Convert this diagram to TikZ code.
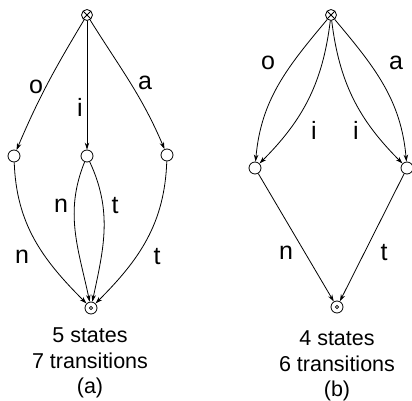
\documentclass[tikz,border=0pt]{standalone}
\usepackage{fontspec}
\setmainfont{Liberation Sans}
\usetikzlibrary{arrows.meta}

\tikzset{
  etat/.style={circle,draw,minimum size=12pt,inner sep=0pt},
  debut/.style={etat,minimum size=11pt,
    path picture={\draw (path picture bounding box.north west)--(path picture bounding box.south east)
                        (path picture bounding box.north east)--(path picture bounding box.south west);}},
  fin/.style={etat,
    path picture={\draw (path picture bounding box.center) circle (1.6pt);}},
  lbl/.style={inner sep=0pt,font=\fontsize{25}{25}\selectfont},
  legende/.style={align=center,inner sep=0pt,font=\fontsize{21.5}{25.5}\selectfont},
  trans/.style={->}
}

\begin{document}
\begin{tikzpicture}[x=1pt,y=1pt,line width=0.8pt,>={Stealth[length=7pt,width=4.5pt]}]
\useasboundingbox (0,0) rectangle (412,401);

% -----------------------
% Automate (a)
% -----------------------
\node[debut] (sa) at (87,386) {};
\node[etat] (qa1) at (14,245) {};
\node[etat] (qa2) at (87,245) {};
\node[etat] (qa3) at (167,246) {};
\node[fin] (fa) at (91,93) {};

\draw[trans] (sa) to[out=239,in=67] (qa1);
\draw[trans] (sa) -- (qa2);
\draw[trans] (sa) to[out=-58,in=113] (qa3);
\draw[trans] (qa1) to[out=-88,in=135] (fa);
\draw[trans] (qa2) to[out=-112,in=102] (fa);
\draw[trans] (qa2) to[out=-65,in=78] (fa);
\draw[trans] (qa3) to[out=-92,in=45] (fa);

\node[lbl] (la-o) at (36,314) {o};
\node[lbl] (la-i) at (80,294) {i};
\node[lbl] (la-a) at (145,318) {a};
\node[lbl] (la-n1) at (22,144) {n};
\node[lbl] (la-n2) at (61,195) {n};
\node[lbl] (la-t2) at (115,195) {t};
\node[lbl] (la-t1) at (157,144) {t};

\node[legende] (cap-a) at (90,38) {5 states\\7 transitions\\(a)};

% -----------------------
% Automate (b)
% -----------------------
\node[debut] (sb) at (331,386) {};
\node[etat] (qb1) at (255,233) {};
\node[etat] (qb2) at (407,233) {};
\node[fin] (fb) at (337,94) {};

\draw[trans] (sb) to[out=-130,in=85] (qb1);
\draw[trans] (sb) to[out=-97,in=45] (qb1);
\draw[trans] (sb) to[out=-83,in=135] (qb2);
\draw[trans] (sb) to[out=-50,in=95] (qb2);
\draw[trans] (qb1) -- (fb);
\draw[trans] (qb2) -- (fb);

\node[lbl] (lb-o) at (268,338) {o};
\node[lbl] (lb-i1) at (314,271) {i};
\node[lbl] (lb-i2) at (356,271) {i};
\node[lbl] (lb-a) at (396,338) {a};
\node[lbl] (lb-n) at (286,148) {n};
\node[lbl] (lb-t) at (384,148) {t};

\node[legende] (cap-b) at (337,35) {4 states\\6 transitions\\(b)};

\end{tikzpicture}
\end{document}
